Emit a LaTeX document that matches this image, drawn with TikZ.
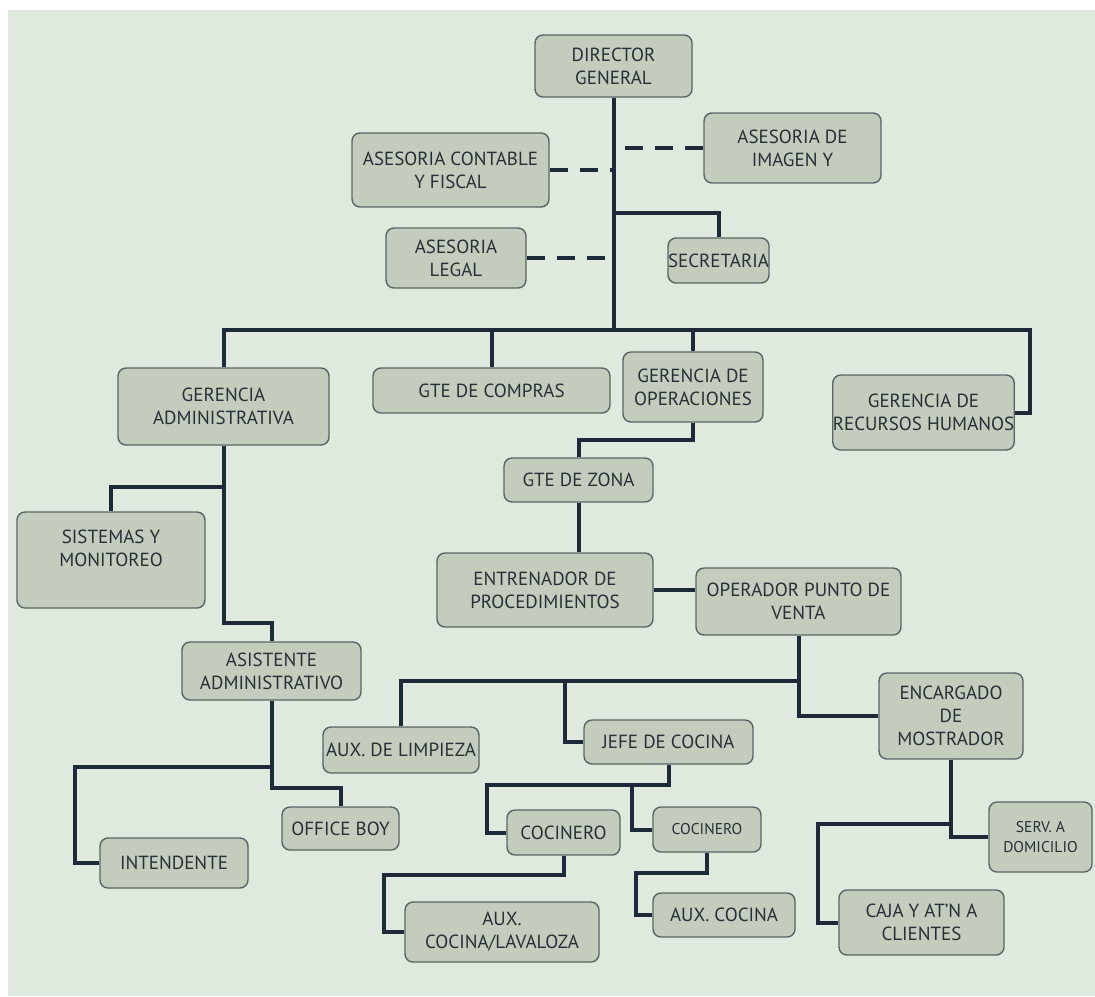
\documentclass[tikz,border=0pt]{standalone}
\usepackage{fontspec}
\setmainfont{PT Sans}
\definecolor{fondo}{RGB}{224,233,221}
\definecolor{caja}{RGB}{195,204,189}
\definecolor{borde}{RGB}{90,100,100}
\definecolor{tinta}{RGB}{30,42,58}
\definecolor{letra}{RGB}{40,48,54}
\begin{document}
\begin{tikzpicture}[x=0.5pt, y=-0.5pt,
	puesto/.style={draw=borde, line width=0.7pt, fill=caja, rounded corners=4pt, align=center, inner sep=0pt, text=letra, font=\fontsize{9.5}{11.5}\selectfont},
	chica/.style={font=\fontsize{7.8}{10}\selectfont},
	medida/.style 2 args={minimum width=#1*0.5pt, minimum height=#2*0.5pt},
	linea/.style={draw=tinta, line width=2pt},
	asesor/.style={linea, dash pattern=on 9pt off 6pt}]
	\useasboundingbox (0,0) rectangle (1095,996);
	\fill[white] (0,0) rectangle (1095,996);
	\fill[fondo] (8,10) rectangle (1095,996);
	\node[puesto, medida={157}{62}] (dir) at (613.5,66) {DIRECTOR\\GENERAL};
	\node[puesto, medida={177}{70}] (imagen) at (792.5,148) {ASESORIA DE\\IMAGEN Y};
	\node[puesto, medida={197}{74}] (contable) at (450.5,170) {ASESORIA CONTABLE\\Y FISCAL};
	\node[puesto, medida={140}{60}] (legal) at (456,258) {ASESORIA\\LEGAL};
	\node[puesto, medida={97}{45}] (secre) at (718.5,260.5) {SECRETARIA};
	\node[puesto, medida={211}{77}] (gadm) at (223.5,406.5) {GERENCIA\\ADMINISTRATIVA};
	\node[puesto, medida={237}{45}] (compras) at (491.5,390.5) {GTE DE COMPRAS};
	\node[puesto, medida={140}{70}] (gop) at (693,387) {GERENCIA DE\\OPERACIONES};
	\node[puesto, medida={179}{75}] (grh) at (923.5,412.5) {GERENCIA DE\\RECURSOS HUMANOS};
	\node[puesto, medida={149}{44}] (zona) at (578.5,480) {GTE DE ZONA};
	\node[puesto, medida={216}{74}] (entren) at (545,590) {ENTRENADOR DE\\PROCEDIMIENTOS};
	\node[puesto, medida={205}{67}] (operador) at (798.5,601.5) {OPERADOR PUNTO DE\\VENTA};
	\node[puesto, medida={188}{96}] (sistemas) at (111,560) {SISTEMAS Y\\MONITOREO\\~};
	\node[puesto, medida={179}{58}] (asist) at (271.5,671) {ASISTENTE\\ADMINISTRATIVO};
	\node[puesto, medida={156}{46}] (limp) at (401,750) {AUX. DE LIMPIEZA};
	\node[puesto, medida={169}{44}] (jefe) at (668.5,742) {JEFE DE COCINA};
	\node[puesto, medida={144}{86}] (encarg) at (951,716) {ENCARGADO\\DE\\MOSTRADOR};
	\node[puesto, medida={117}{43}] (office) at (340.5,828.5) {OFFICE BOY};
	\node[puesto, medida={148}{50}] (intend) at (174,863) {INTENDENTE};
	\node[puesto, medida={113}{45}] (coc1) at (563.5,832.5) {COCINERO};
	\node[puesto, medida={108}{45}, chica] (coc2) at (707,829.5) {COCINERO};
	\node[puesto, medida={194}{60}] (lavaloza) at (502,932) {AUX.\\COCINA/LAVALOZA};
	\node[puesto, medida={142}{44}] (auxcoc) at (724,915) {AUX. COCINA};
	\node[puesto, medida={103}{70}, chica] (serv) at (1040.5,837) {SERV. A\\DOMICILIO};
	\node[puesto, medida={165}{65}] (caja) at (921.5,922.5) {CAJA Y AT'N A\\CLIENTES};
	\coordinate (busizq) at (225,330);
	\coordinate (busder) at (1030,330);
	\coordinate (csecre) at (613.5,213);
	\coordinate (bus2) at (798.5,681);
	\coordinate (cjefe) at (565,681);
	\coordinate (ccoc1) at (487,785);
	\coordinate (ccoc2) at (632,785);
	\coordinate (clava) at (384,875);
	\coordinate (caux) at (636,873);
	\coordinate (ccaja) at (818,824);
	\coordinate (casist) at (271.5,623);
	\coordinate (csis) at (223.5,487);
	\coordinate (cint) at (75,767);
	\coordinate (coff) at (271.5,788);
	\draw[linea] (dir.south) -- (dir.south |- busizq);
	\draw[linea] (gadm.north) |- (busder) -- (busder |- grh.east) -- (grh.east);
	\draw[linea] (compras.north) -- (compras.north |- busizq);
	\draw[linea] (gop.north) -- (gop.north |- busizq);
	\draw[asesor] (imagen.west) -- (imagen.west -| dir.south);
	\draw[asesor] (contable.east) -- (contable.east -| dir.south);
	\draw[asesor] (legal.east) -- (legal.east -| dir.south);
	\draw[linea] (csecre) -| (secre.north);
	\draw[linea] (gop.south) -- ++(0,17) -| (zona.north);
	\draw[linea] (zona.south) -- (zona.south |- entren.north);
	\draw[linea] (entren.east) -- (entren.east -| operador.west);
	\draw[linea] (operador.south) -- (bus2) -| (limp.north);
	\draw[linea] (cjefe) |- (jefe.west);
	\draw[linea] (bus2) |- (encarg.west);
	\draw[linea] (jefe.south) |- (ccoc1) |- (coc1.west);
	\draw[linea] (ccoc2) |- (coc2.west);
	\draw[linea] (coc1.south) |- (clava) |- (lavaloza.west);
	\draw[linea] (coc2.south) |- (caux) |- (auxcoc.west);
	\draw[linea] (encarg.south) |- (serv.west);
	\draw[linea] (encarg.south |- ccaja) -- (ccaja) |- (caja.west);
	\draw[linea] (gadm.south) |- (casist) -- (asist.north);
	\draw[linea] (csis) -| (sistemas.north);
	\draw[linea] (asist.south) |- (cint) |- (intend.west);
	\draw[linea] (asist.south |- cint) -- (coff) -| (office.north);
\end{tikzpicture}
\end{document}
